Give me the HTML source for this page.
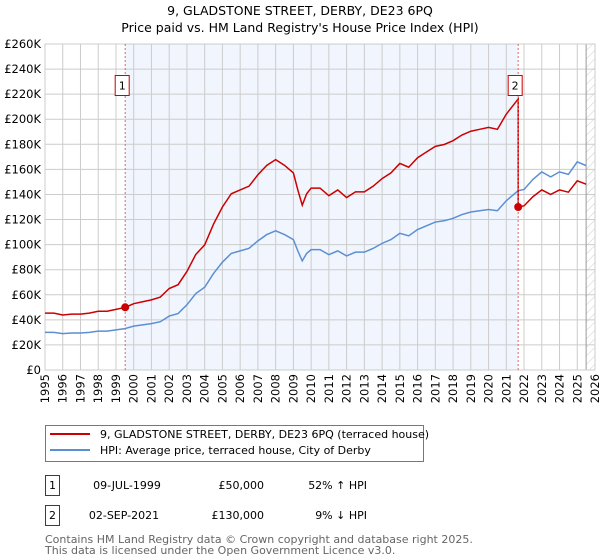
<!DOCTYPE html>
<html><head><meta charset="utf-8"><style>
body{margin:0;background:#fff}
svg{font-family:"DejaVu Sans","Liberation Sans",sans-serif;display:block}
</style></head><body>
<svg id="c" width="600" height="560">
<defs><pattern id="hatch" width="6" height="6" patternUnits="userSpaceOnUse" patternTransform="rotate(45)"><line x1="0" y1="0" x2="0" y2="6" stroke="#ccc" stroke-width="1"/></pattern></defs>
<text x="300" y="15" text-anchor="middle" font-size="12.5">9, GLADSTONE STREET, DERBY, DE23 6PQ</text>
<text x="300" y="32" text-anchor="middle" font-size="12.5">Price paid vs. HM Land Registry's House Price Index (HPI)</text>
<g id="plot"></g>
<g>
<rect x="45.5" y="425.5" width="378" height="36" fill="#fff" stroke="#777"/>
<line x1="50" y1="434" x2="90" y2="434" stroke="#cc0000" stroke-width="2"/>
<text x="100" y="438" font-size="11">9, GLADSTONE STREET, DERBY, DE23 6PQ (terraced house)</text>
<line x1="50" y1="450" x2="90" y2="450" stroke="#5b8fd4" stroke-width="2"/>
<text x="100" y="454" font-size="11">HPI: Average price, terraced house, City of Derby</text>
</g>
<g font-size="11">
<rect x="45.5" y="475.5" width="14" height="20" fill="#fff" stroke="#cc0000"/>
<text x="52.5" y="489" text-anchor="middle">1</text>
<text x="127" y="489" text-anchor="middle">09-JUL-1999</text>
<text x="264" y="489" text-anchor="end">£50,000</text>
<text x="367" y="489" text-anchor="end">52% ↑ HPI</text>
<rect x="45.5" y="505.5" width="14" height="20" fill="#fff" stroke="#cc0000"/>
<text x="52.5" y="519" text-anchor="middle">2</text>
<text x="124" y="519" text-anchor="middle">02-SEP-2021</text>
<text x="264" y="519" text-anchor="end">£130,000</text>
<text x="367" y="519" text-anchor="end">9% ↓ HPI</text>
</g>
<text x="45" y="543" font-size="11" fill="#666">Contains HM Land Registry data © Crown copyright and database right 2025.</text>
<text x="45" y="554" font-size="11" fill="#666">This data is licensed under the Open Government Licence v3.0.</text>
</svg>
<script>
const hpiYears=[1995,1995.5,1996,1996.5,1997,1997.5,1998,1998.5,1999,1999.5,2000,2000.5,2001,2001.5,2002,2002.5,2003,2003.5,2004,2004.5,2005,2005.5,2006,2006.5,2007,2007.5,2008,2008.5,2009,2009.25,2009.5,2009.75,2010,2010.5,2011,2011.5,2012,2012.5,2013,2013.5,2014,2014.5,2015,2015.5,2016,2016.5,2017,2017.5,2018,2018.5,2019,2019.5,2020,2020.5,2021,2021.5,2021.67,2022,2022.5,2023,2023.5,2024,2024.5,2025,2025.5];
const hpiValues=[30,30,29,29.5,29.5,30,31,31,32,33,35,36,37,38.5,43,45,52,61,66,77,86,93,95,97,103,108,111,108,104,95,87,93,96,96,92,95,91,94,94,97,101,104,109,107,112,115,118,119,121,124,126,127,128,127,135,141,143,144,152,158,154,158,156,166,163];
const saleYears=[1999.52,2021.67];
const salePrices=[50,130];
const yTicks=[0,20,40,60,80,100,120,140,160,180,200,220,240,260];
const xTicks=[1995,1996,1997,1998,1999,2000,2001,2002,2003,2004,2005,2006,2007,2008,2009,2010,2011,2012,2013,2014,2015,2016,2017,2018,2019,2020,2021,2022,2023,2024,2025,2026];
const L=45,R=595,T=44,B=370,x0=1995,x1=2026,yMax=260,dataEnd=2025.5;
const X=v=>L+(v-x0)/(x1-x0)*(R-L);
const Y=v=>B-v/yMax*(B-T);
const NS='http://www.w3.org/2000/svg';
const g=document.getElementById('plot');
function mk(t,a,p){const e=document.createElementNS(NS,t);for(const k in a)e.setAttribute(k,a[k]);(p||g).appendChild(e);return e;}
function interp(yr){for(let i=0;i<hpiYears.length-1;i++){if(yr<=hpiYears[i+1]){const f=(yr-hpiYears[i])/(hpiYears[i+1]-hpiYears[i]);return hpiValues[i]+f*(hpiValues[i+1]-hpiValues[i]);}}return hpiValues[hpiValues.length-1];}
const shade=mk('rect',{x:X(saleYears[0]),y:T,width:X(saleYears[1])-X(saleYears[0]),height:B-T,fill:'#f1f5fd'});


const hat=mk('rect',{x:X(dataEnd),y:T,width:R-X(dataEnd),height:B-T,fill:'url(#hatch)'});


yTicks.forEach(v=>{mk('line',{x1:L,x2:R,y1:Y(v),y2:Y(v),stroke:'#ccc','stroke-width':1});
const t=mk('text',{x:L-4,y:Y(v)+4,'text-anchor':'end','font-size':11.5});t.textContent='£'+(v?v+'K':'0');

});
xTicks.forEach(v=>{mk('line',{x1:X(v),x2:X(v),y1:T,y2:B,stroke:'#ccc','stroke-width':1});
const t=mk('text',{transform:`translate(${X(v)+4},${B+4}) rotate(-90)`,'text-anchor':'end','font-size':11.5});t.textContent=v;

});
mk('line',{x1:X(dataEnd),x2:X(dataEnd),y1:T,y2:B,stroke:'#999','stroke-width':1});
mk('rect',{x:L,y:T,width:R-L,height:B-T,fill:'none',stroke:'#ccc'});
const h1=interp(saleYears[0]),h2=interp(saleYears[1]);
let bp='',rp='';
hpiYears.forEach((yr,i)=>{const v=hpiValues[i];bp+=(i?'L':'M')+X(yr)+','+Y(v);});
hpiYears.forEach((yr,i)=>{if(yr>saleYears[1]-0.001)return;rp+=(rp?'L':'M')+X(yr)+','+Y(hpiValues[i]*salePrices[0]/h1);});
rp+='L'+X(saleYears[1])+','+Y(h2*salePrices[0]/h1)+'L'+X(saleYears[1])+','+Y(salePrices[1]);
hpiYears.forEach((yr,i)=>{if(yr<=saleYears[1])return;rp+='L'+X(yr)+','+Y(hpiValues[i]*salePrices[1]/h2);});
const bl=mk('path',{d:bp,fill:'none',stroke:'#5b8fd4','stroke-width':1.5});


const rl=mk('path',{d:rp,fill:'none',stroke:'#cc0000','stroke-width':1.5});


saleYears.forEach((yr,i)=>{
mk('line',{x1:X(yr),x2:X(yr),y1:T,y2:B,stroke:'#e06666','stroke-width':1,'stroke-dasharray':'2,2'});
const d=mk('circle',{cx:X(yr),cy:Y(salePrices[i]),r:4,fill:'#cc0000'});


const bx=mk('rect',{x:X(yr)-10,y:75.5,width:14,height:20,fill:'#fff',stroke:'#cc0000'});


const t=mk('text',{x:X(yr)-3,y:89.5,'text-anchor':'middle','font-size':11});t.textContent=i+1;


});
</script>
</body></html>
